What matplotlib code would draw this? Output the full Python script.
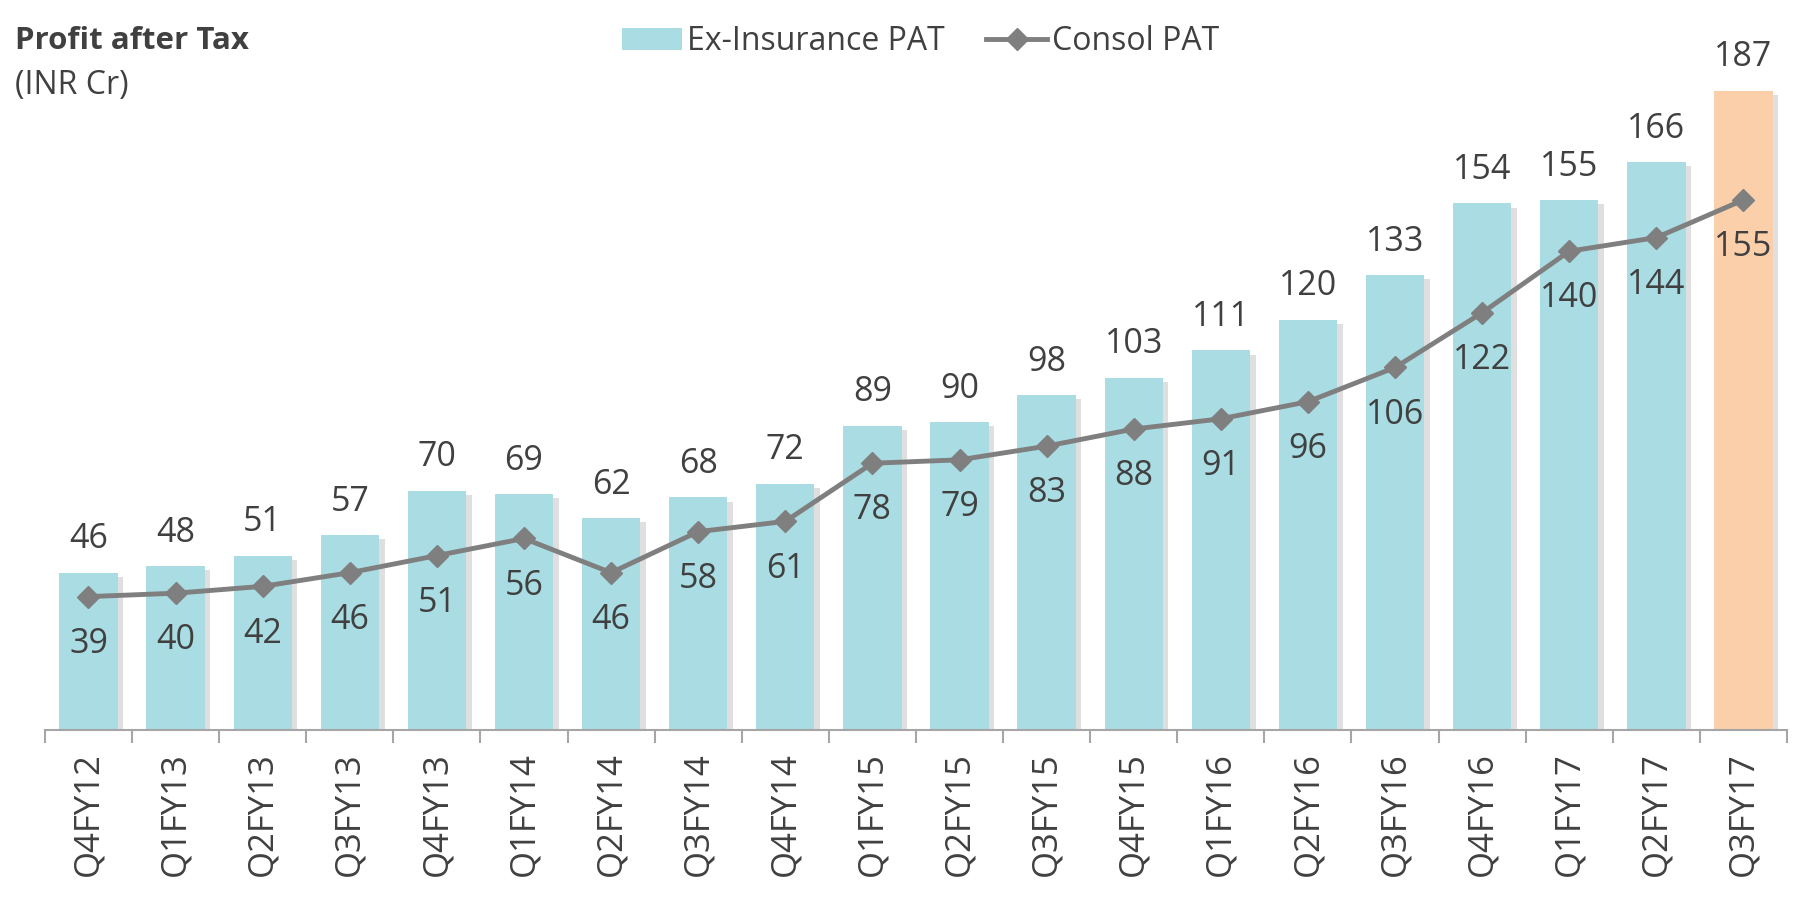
import matplotlib
matplotlib.use("Agg")
import matplotlib.pyplot as plt
import matplotlib.patheffects as pe
from matplotlib.patches import Patch
from matplotlib.lines import Line2D
import numpy as np

quarters = ["Q4FY12", "Q1FY13", "Q2FY13", "Q3FY13", "Q4FY13", "Q1FY14", "Q2FY14",
            "Q3FY14", "Q4FY14", "Q1FY15", "Q2FY15", "Q3FY15", "Q4FY15", "Q1FY16",
            "Q2FY16", "Q3FY16", "Q4FY16", "Q1FY17", "Q2FY17", "Q3FY17"]
ex_insurance_pat = [46, 48, 51, 57, 70, 69, 62, 68, 72, 89, 90, 98, 103, 111, 120, 133,
                    154, 155, 166, 187]
consol_pat = [39, 40, 42, 46, 51, 56, 46, 58, 61, 78, 79, 83, 88, 91, 96, 106, 122, 140,
              144, 155]

BAR = "#a9dce3"
LAST = "#fbcfaa"
LINE = "#7f7f7f"
TXT = "#404040"

plt.rcParams['font.family'] = ['Open Sans', 'DejaVu Sans']

fig = plt.figure(figsize=(18.19, 9.21), dpi=100)
ax = fig.add_axes([0.0247, 0.2074, 0.9577, 0.7426])

x = np.arange(len(quarters))
colors = [BAR] * (len(quarters) - 1) + [LAST]
bars = ax.bar(x, ex_insurance_pat, width=0.67, color=colors, zorder=2)
for b in bars:
    b.set_path_effects([pe.SimplePatchShadow(offset=(4, -3), shadow_rgbFace="#808080", alpha=0.25),
                        pe.Normal()])

ax.plot(x, consol_pat, color=LINE, lw=3.5, marker="D", ms=11, zorder=3)

for i, v in enumerate(ex_insurance_pat):
    ax.annotate(str(v), (i, v), xytext=(0, 24), textcoords="offset points",
                ha="center", va="center", fontsize=24.5, color=TXT)
for i, v in enumerate(consol_pat):
    ax.annotate(str(v), (i, v), xytext=(0, -34), textcoords="offset points",
                ha="center", va="center", fontsize=24.5, color=TXT, zorder=4)

ax.set_xlim(-0.5, len(quarters) - 0.5)
ax.set_ylim(0, 200)
for s in ["top", "right", "left"]:
    ax.spines[s].set_visible(False)
ax.spines["bottom"].set_color("#a6a6a6")
ax.spines["bottom"].set_linewidth(1.5)
ax.set_yticks([])
ax.set_xticks(x)
ax.set_xticklabels(quarters, rotation=90, fontsize=25, color=TXT)
ax.tick_params(axis="x", which="major", length=0, pad=16)
ax.set_xticks(np.arange(-0.5, len(quarters)), minor=True)
ax.tick_params(axis="x", which="minor", length=9, width=1.5, color="#a6a6a6")

fig.text(0.008, 0.955, "Profit after Tax", fontsize=22.5, fontweight="bold", color=TXT,
         va="center", ha="left")
fig.text(0.008, 0.907, "(INR Cr)", fontsize=23, color=TXT, va="center", ha="left")

handles = [Patch(facecolor=BAR), Line2D([0], [0], color=LINE, lw=3.5, marker="D", ms=11)]
fig.legend(handles, ["Ex-Insurance PAT", "Consol PAT"], loc="center",
           bbox_to_anchor=(0.506, 0.955), ncol=2, frameon=False, fontsize=23,
           handlelength=1.9, handletextpad=0.15, columnspacing=1.3, labelcolor=TXT)

fig.savefig("out.png", dpi=100)
